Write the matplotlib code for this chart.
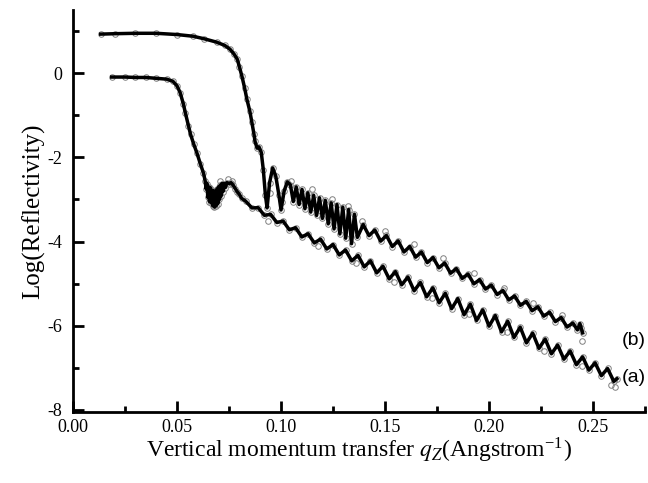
import matplotlib
matplotlib.use("Agg")
import matplotlib.pyplot as plt
from matplotlib.ticker import MultipleLocator

# ---- curve (a): fitted line ----
qa = [0.0186, 0.025, 0.030, 0.035, 0.040, 0.045, 0.048, 0.050, 0.0515, 0.053,
      0.054, 0.0555, 0.0565, 0.058, 0.0596, 0.0612, 0.0627, 0.0635,
      0.0640, 0.0644, 0.0648, 0.0652, 0.0656, 0.0660, 0.0664, 0.0668, 0.0672,
      0.0676, 0.0680, 0.0684, 0.0688, 0.0692, 0.0696, 0.0700, 0.0704, 0.0708,
      0.0712, 0.0716, 0.0720, 0.0726, 0.0732,
      0.0740, 0.0750, 0.0760, 0.0770, 0.0780, 0.0790, 0.0800, 0.0810,
      0.083, 0.086, 0.089, 0.092, 0.095, 0.098, 0.101, 0.104, 0.107, 0.110,
      0.113, 0.116, 0.119, 0.122, 0.125, 0.128, 0.131, 0.134, 0.137, 0.140,
      0.143, 0.146, 0.149, 0.152, 0.155, 0.158, 0.161, 0.164, 0.167, 0.170,
      0.173, 0.176, 0.179, 0.182, 0.185, 0.188, 0.191, 0.194, 0.197, 0.200,
      0.203, 0.206, 0.209, 0.212, 0.215, 0.218, 0.221, 0.224, 0.227, 0.230,
      0.233, 0.236, 0.239, 0.242, 0.245, 0.248, 0.251, 0.254, 0.257, 0.260,
      0.2615]
ra = [-0.09, -0.09, -0.10, -0.10, -0.12, -0.14, -0.19, -0.30, -0.46, -0.72,
      -0.94, -1.25, -1.45, -1.68, -1.90, -2.15, -2.37, -2.55,
      -2.75, -2.62, -2.95, -2.70, -3.05, -2.72, -3.08, -2.78, -3.15,
      -2.80, -3.18, -2.80, -3.15, -2.75, -3.10, -2.70, -3.00, -2.66,
      -2.92, -2.62, -2.82, -2.62, -2.72,
      -2.60, -2.62, -2.60, -2.66, -2.74, -2.82, -2.88, -2.97,
      -3.04, -3.20, -3.195, -3.376, -3.353, -3.548, -3.511, -3.72, -3.67, -3.891,
      -3.813, -4.033, -3.942, -4.176, -4.07, -4.318, -4.199, -4.459, -4.327, -4.602,
      -4.456, -4.744, -4.585, -4.887, -4.713, -5.028, -4.842, -5.17, -4.971, -5.313,
      -5.099, -5.455, -5.228, -5.596, -5.356, -5.739, -5.487, -5.875, -5.623, -6.01,
      -5.758, -6.146, -5.893, -6.279, -6.034, -6.408, -6.175, -6.538, -6.316, -6.667,
      -6.458, -6.796, -6.599, -6.926, -6.74, -7.055, -6.881, -7.188, -7.016, -7.324,
      -7.26]

# ---- curve (b): fitted line ----
qb = [0.0133, 0.020, 0.030, 0.040, 0.050, 0.0577, 0.063, 0.069, 0.073, 0.0755,
      0.0775, 0.079, 0.080, 0.0812, 0.0825, 0.0836, 0.085, 0.086, 0.087, 0.0875,
      0.0885, 0.0894, 0.0905, 0.0915, 0.0925, 0.0933, 0.0945, 0.0960, 0.0975,
      0.0990, 0.1000, 0.1015, 0.1030,
      0.1045, 0.1059, 0.1073, 0.1087, 0.1101, 0.1115, 0.1129, 0.1143, 0.1157,
      0.1171, 0.1185, 0.1199, 0.1213, 0.1227, 0.1241, 0.1255, 0.1269, 0.1283,
      0.1297, 0.1311, 0.1325, 0.1339, 0.1353, 0.1367,
      0.1395, 0.1423, 0.1451, 0.1479, 0.1507, 0.1535, 0.1563, 0.1591, 0.1619,
      0.1647, 0.1675, 0.1703, 0.1731, 0.1759, 0.1787, 0.1815, 0.1843, 0.1871,
      0.1899, 0.1927, 0.1955, 0.1983, 0.2011, 0.2039, 0.2067, 0.2095, 0.2123,
      0.2151, 0.2179, 0.2207, 0.2235, 0.2263, 0.2291, 0.2319, 0.2347, 0.2375,
      0.2403, 0.2425, 0.2437, 0.2450]
rb = [0.93, 0.94, 0.95, 0.95, 0.92, 0.88, 0.82, 0.74, 0.66, 0.57,
      0.45, 0.33, 0.15, -0.07, -0.35, -0.62, -0.90, -1.17, -1.45, -1.62,
      -1.78, -1.75, -1.88, -2.30, -2.90, -3.20, -2.60, -2.25, -2.45,
      -2.90, -3.25, -2.80, -2.58,
      -2.65, -3.05, -2.70, -3.12, -2.76, -3.22, -2.84, -3.30, -2.90,
      -3.38, -2.96, -3.45, -3.02, -3.58, -3.08, -3.70, -3.12, -3.82,
      -3.18, -3.92, -3.24, -4.05, -3.35, -3.90,
      -3.597, -3.859, -3.725, -3.99, -3.855, -4.119, -3.983, -4.247, -4.117,
      -4.371, -4.246, -4.50, -4.379, -4.624, -4.508, -4.753, -4.642, -4.876,
      -4.771, -5.005, -4.905, -5.129, -5.033, -5.258, -5.162, -5.387, -5.291,
      -5.515, -5.42, -5.644, -5.549, -5.773, -5.677, -5.902, -5.806, -6.031,
      -5.935, -6.10, -5.95, -6.17]

# ---- scattered measured points lying off the fits ----
qa_extra = [0.0705, 0.0745, 0.0765, 0.0935, 0.118, 0.136, 0.1545, 0.1725,
            0.1905, 0.2085, 0.2265, 0.2445, 0.2585, 0.2605]
ra_extra = [-2.55, -2.52, -2.55, -3.50, -4.10, -4.52, -4.95, -5.35,
            -5.72, -6.15, -6.60, -6.95, -7.40, -7.45]
qb_extra = [0.0945, 0.1005, 0.1050, 0.1150, 0.1245, 0.1320, 0.1390, 0.1500,
            0.1640, 0.1780, 0.1930, 0.2070, 0.2210, 0.2350, 0.2440, 0.2447]
rb_extra = [-2.85, -3.05, -2.55, -2.75, -3.00, -3.15, -3.50, -3.75,
            -4.05, -4.40, -4.75, -5.10, -5.45, -5.75, -6.05, -6.36]

plt.rcParams['font.family'] = ['Liberation Serif', 'DejaVu Serif']
plt.rcParams['mathtext.fontset'] = 'stix'

fig = plt.figure(figsize=(6.48, 4.83), dpi=100)
ax = fig.add_axes([0.1127, 0.147, 0.8827, 0.832])

circ = dict(linestyle='none', marker='o', ms=4, mfc='none', mec='#808080',
            mew=0.7, zorder=1)
for q, r in ((qa, ra), (qb, rb), (qa_extra, ra_extra), (qb_extra, rb_extra)):
    ax.plot(q, r, **circ)
for q, r in ((qa, ra), (qb, rb)):
    ax.plot(q, r, color='black', lw=2.5, zorder=2)

ax.set_xlim(0.0, 0.275)
ax.set_ylim(-8.05, 1.5)
ax.xaxis.set_major_locator(MultipleLocator(0.05))
ax.xaxis.set_minor_locator(MultipleLocator(0.025))
ax.yaxis.set_major_locator(MultipleLocator(2))
ax.yaxis.set_minor_locator(MultipleLocator(1))
ax.xaxis.set_major_formatter(plt.FuncFormatter(lambda v, p: f"{v:.2f}"))
ax.yaxis.set_major_formatter(plt.FuncFormatter(lambda v, p: f"{v:.0f}"))

for s in ('top', 'right'):
    ax.spines[s].set_visible(False)
for s in ('left', 'bottom'):
    ax.spines[s].set_linewidth(2.0)
ax.tick_params(which='major', direction='in', length=8, width=2.0, labelsize=13)
ax.tick_params(which='minor', direction='in', length=4, width=2.0)
ax.tick_params(axis='y', which='major', pad=7.5)
ax.tick_params(axis='x', which='major', pad=5)

ax.set_xlabel(r"Vertical momentum transfer $q_Z$(Angstrom$^{\mathregular{-1}}$)",
              fontsize=17, labelpad=0)
ax.set_ylabel("Log(Reflectivity)", fontsize=18, labelpad=2)

ax.text(0.2640, -6.35, "(b)", fontsize=14, family='Liberation Sans', va='center', ha='left')
ax.text(0.2640, -7.22, "(a)", fontsize=14, family='Liberation Sans', va='center', ha='left')

fig.savefig("out.png", dpi=100)
